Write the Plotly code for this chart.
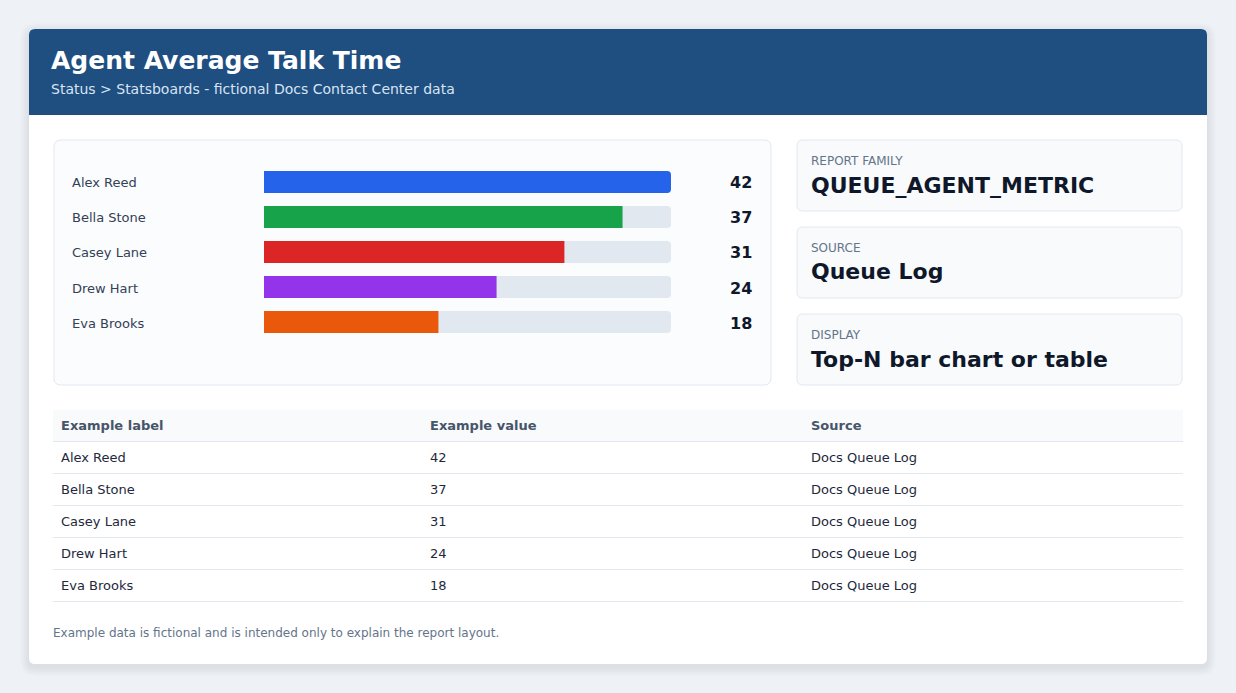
import plotly.graph_objects as go

W, H = 1236, 693

# ---------------- data ----------------
agents = ["Alex Reed", "Bella Stone", "Casey Lane", "Drew Hart", "Eva Brooks"]
talk_time = [42, 37, 31, 24, 18]
bar_colors = ["#2563eb", "#16a34a", "#dc2626", "#9333ea", "#ea580c"]
sources = ["Docs Queue Log", "Docs Queue Log", "Docs Queue Log", "Docs Queue Log", "Docs Queue Log"]
table_headers = ["Example label", "Example value", "Source"]
info_labels = ["REPORT FAMILY", "SOURCE", "DISPLAY"]
info_values = ["QUEUE_AGENT_METRIC", "Queue Log", "Top-N bar chart or table"]
title_text = "Agent Average Talk Time"
subtitle_text = "Status > Statsboards - fictional Docs Contact Center data"
footnote_text = "Example data is fictional and is intended only to explain the report layout."

FONT = "DejaVu Sans"


def fx(x):
    return x / W


def fy(y):
    return 1 - y / H


def rrect(x0, y0, x1, y1, r, top_only=False):
    rb = 0 if top_only else r
    p = []
    p.append(f"M{fx(x0 + r)},{fy(y0)}")
    p.append(f"L{fx(x1 - r)},{fy(y0)}")
    p.append(f"Q{fx(x1)},{fy(y0)} {fx(x1)},{fy(y0 + r)}")
    p.append(f"L{fx(x1)},{fy(y1 - rb)}")
    if rb:
        p.append(f"Q{fx(x1)},{fy(y1)} {fx(x1 - rb)},{fy(y1)}")
    p.append(f"L{fx(x0 + rb)},{fy(y1)}")
    if rb:
        p.append(f"Q{fx(x0)},{fy(y1)} {fx(x0)},{fy(y1 - rb)}")
    p.append(f"L{fx(x0)},{fy(y0 + r)}")
    p.append(f"Q{fx(x0)},{fy(y0)} {fx(x0 + r)},{fy(y0)}")
    p.append("Z")
    return " ".join(p)


shapes = []
annotations = []


def add_rr(x0, y0, x1, y1, r, fill, line=None, top_only=False):
    shapes.append(dict(
        type="path", xref="paper", yref="paper", layer="below",
        path=rrect(x0, y0, x1, y1, r, top_only),
        fillcolor=fill,
        line=dict(color=line if line else "rgba(0,0,0,0)", width=1 if line else 0),
    ))


def add_text(x, y, text, size, color, bold=False, xanchor="left", yref="paper"):
    annotations.append(dict(
        x=fx(x - 1 if xanchor == "left" else x), y=(fy(y) if yref == "paper" else y),
        xref="paper", yref=yref,
        text=f"<b>{text}</b>" if bold else text, showarrow=False,
        xanchor=xanchor, yanchor="middle", borderpad=0,
        font=dict(family=FONT, size=size, color=color),
    ))


# ---------------- main card + shadow ----------------
for s in range(1, 10):
    add_rr(29 - s, 29 - s + 3, 1207 + s, 664 + s + 3, 6 + s, "rgba(15,23,42,0.009)")
add_rr(29, 29, 1207, 664, 6, "#ffffff")
add_rr(29, 29, 1207, 115, 6, "#1f4e80", top_only=True)

add_text(51, 61, title_text, 25, "#ffffff", bold=True)
add_text(51, 89, subtitle_text, 14, "#d7e4f4")

# ---------------- chart card ----------------
add_rr(54, 140, 771, 385, 7, "#fbfcfe", "#e2e8f0")

# ---------------- info cards ----------------
card_tops = [140, 227, 314]
for top, lab, val in zip(card_tops, info_labels, info_values):
    add_rr(797, top, 1182, top + 71, 6, "#f8fafc", "#e2e8f0")
    add_text(811, top + 21, lab, 12, "#64748b")
    add_text(811, top + 45, val, 22, "#0f172a", bold=True)

# ---------------- table ----------------
col_x = [61, 430, 811]
shapes.append(dict(type="rect", xref="paper", yref="paper", layer="below",
                   x0=fx(53), x1=fx(1183), y0=fy(410), y1=fy(441.5),
                   fillcolor="#f8fafc", line=dict(width=0)))
for cx, h in zip(col_x, table_headers):
    add_text(cx, 425.5, h, 13, "#475569", bold=True)
row_h = 32
for i, (a, v, s) in enumerate(zip(agents, talk_time, sources)):
    yc = 457.5 + i * row_h
    add_text(col_x[0], yc, a, 13, "#1e293b")
    add_text(col_x[1], yc, str(v), 13, "#1e293b")
    add_text(col_x[2], yc, s, 13, "#1e293b")
for i in range(len(agents) + 1):
    yl = 441.5 + i * row_h
    shapes.append(dict(type="line", xref="paper", yref="paper", layer="below",
                       x0=fx(53), x1=fx(1183), y0=fy(yl), y1=fy(yl),
                       line=dict(color="#e2e8f0", width=1)))

add_text(53, 632.5, footnote_text, 12, "#64748b")

# ---------------- bars ----------------
vmax = max(talk_time)
bar_w = 22 / 35
fig = go.Figure()
fig.add_trace(go.Bar(
    y=agents, x=[vmax] * len(agents), orientation="h",
    marker=dict(color="#e2e8f0", line=dict(width=0)), width=bar_w,
    hoverinfo="skip", showlegend=False,
))
fig.add_trace(go.Bar(
    y=agents, x=talk_time, orientation="h",
    marker=dict(color=bar_colors, line=dict(width=0)), width=bar_w,
    hoverinfo="skip", showlegend=False,
))

for a, v in zip(agents, talk_time):
    annotations.append(dict(
        x=fx(71), y=a, xref="paper", yref="y", text=a, showarrow=False,
        xanchor="left", yanchor="middle", borderpad=0, yshift=-1,
        font=dict(family=FONT, size=13, color="#334155"),
    ))
    annotations.append(dict(
        x=fx(753), y=a, xref="paper", yref="y", text=f"<b>{v}</b>", showarrow=False,
        xanchor="right", yanchor="middle", borderpad=0, yshift=-1,
        font=dict(family=FONT, size=16, color="#0f172a"),
    ))

fig.update_layout(
    width=W, height=H,
    margin=dict(l=0, r=0, t=0, b=0),
    paper_bgcolor="#eef2f7",
    plot_bgcolor="rgba(0,0,0,0)",
    barmode="overlay",
    barcornerradius=4,
    font=dict(family=FONT),
    shapes=shapes,
    annotations=annotations,
    xaxis=dict(domain=[fx(264), fx(671)], range=[0, vmax], visible=False, fixedrange=True),
    yaxis=dict(domain=[fy(339.5), fy(164.5)], type="category", categoryorder="array",
               categoryarray=agents, autorange="reversed", visible=False, fixedrange=True),
    showlegend=False,
)

fig.write_html("out.html", config={"displayModeBar": False})
